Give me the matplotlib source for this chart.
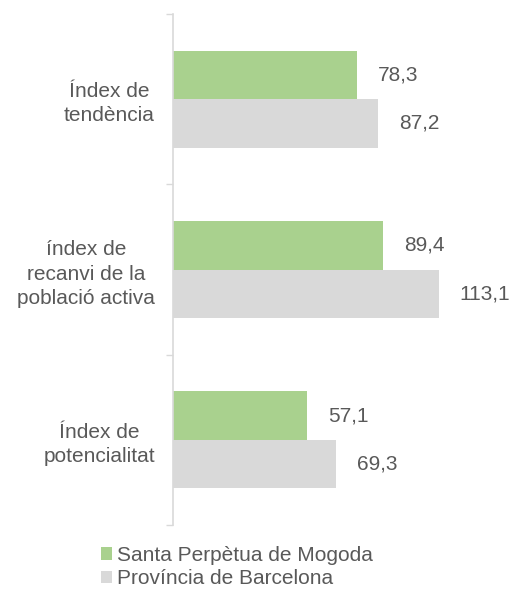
import numpy as np
import matplotlib as mpl
mpl.use('Agg')
import matplotlib.pyplot as plt

plt.rcParams['font.family'] = ['Liberation Sans', 'DejaVu Sans']

categories = ['Índex de\ntendència', 'índex de\nrecanvi de la\npoblació activa', 'Índex de\npotencialitat']
santa_perpetua = [78.3, 89.4, 57.1]
provincia = [87.2, 113.1, 69.3]
series_names = ['Santa Perpètua de Mogoda', 'Província de Barcelona']

green = '#A9D18E'
grey = '#D9D9D9'
txt = '#595959'
fs = 15

fig = plt.figure(figsize=(5.09, 5.94), dpi=100)
ax = fig.add_axes([173/509, 1-525/594, 1-173/509, (525-14)/594])

y = np.arange(len(categories))
h = 0.285
b1 = ax.barh(y - h/2, santa_perpetua, height=h, color=green, label=series_names[0])
b2 = ax.barh(y + h/2, provincia, height=h, color=grey, label=series_names[1])

for bars, vals in ((b1, santa_perpetua), (b2, provincia)):
    for bar, v in zip(bars, vals):
        ax.annotate(('%.1f' % v).replace('.', ','),
                    (bar.get_width(), bar.get_y() + bar.get_height()/2),
                    xytext=(15, 0), textcoords='offset points',
                    ha='left', va='center', fontsize=fs, color=txt)

ax.set_xlim(0, 143)
ax.set_ylim(2.5, -0.5)
ax.set_xticks([])
ax.set_yticks(y)
ax.set_yticklabels(categories, fontsize=fs, color=txt)
for lbl in ax.get_yticklabels():
    lbl.set_multialignment('center')
    lbl.set_linespacing(1.35)
ax.set_yticks([-0.5, 0.5, 1.5, 2.5], minor=True)
ax.tick_params(axis='y', which='major', length=0, pad=13)
ax.tick_params(axis='y', which='minor', length=5, color=grey, width=1)

for s in ['top', 'right', 'bottom']:
    ax.spines[s].set_visible(False)
ax.spines['left'].set_color(grey)
ax.spines['left'].set_linewidth(1.2)

fig.legend(handles=[b1, b2], loc='upper left', bbox_to_anchor=(101/509, 1-546/594),
           frameon=False, fontsize=fs, handlelength=0.55, handleheight=0.55,
           handletextpad=0.2, labelspacing=0.2, borderaxespad=0, borderpad=0,
           labelcolor=txt)

plt.savefig('out.png', dpi=100)
